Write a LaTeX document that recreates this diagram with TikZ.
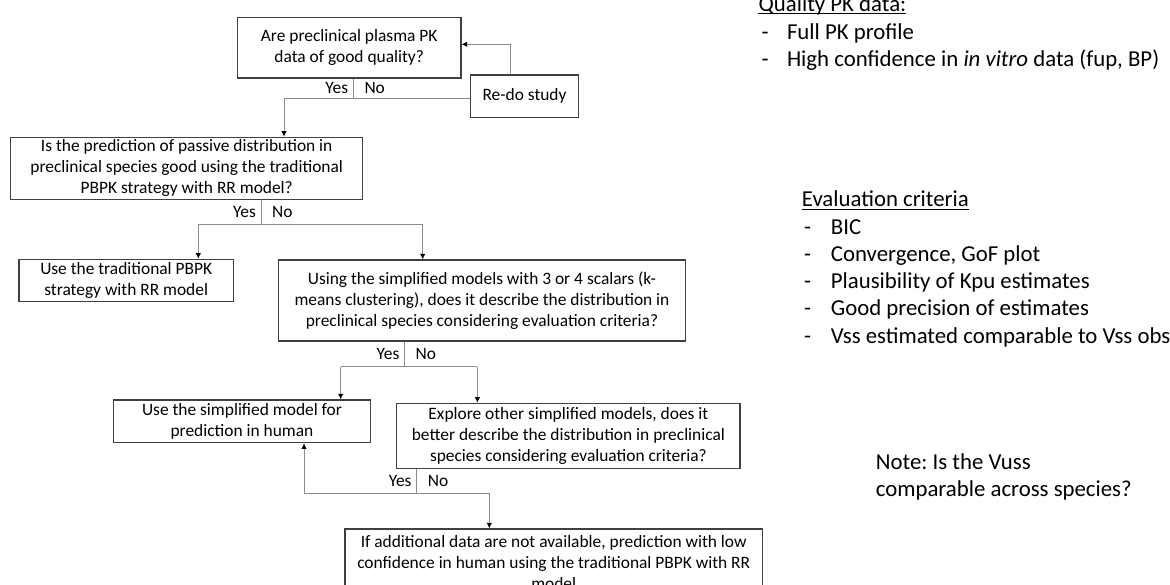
\documentclass[tikz,border=0pt]{standalone}
\usepackage{fontspec}
\setmainfont{Carlito}
\usetikzlibrary{arrows.meta}
\definecolor{boxline}{HTML}{404040}
\definecolor{linkgray}{HTML}{8C8C8C}
\newcommand\boxfont{\fontsize{17.4}{21}\selectfont}
\newcommand\notefont{\fontsize{22.8}{27.3}\selectfont}
\frenchspacing
\begin{document}
\begin{tikzpicture}[x=1pt,y=-1pt,
  box/.style={draw=boxline, line width=1.2pt, inner sep=0pt, align=center, font=\boxfont},
  link/.style={draw=linkgray, line width=1pt},
  arrow/.style={link, -{Latex[length=5.5pt,width=5.5pt,color=black]}},
  yes/.style={anchor=east, font=\boxfont, inner sep=0pt},
  no/.style={anchor=west, font=\boxfont, inner sep=0pt},
  note/.style={anchor=base west, font=\notefont, inner sep=0pt},
  uline/.style={draw=black, line width=0.9pt},
]
\useasboundingbox (0,0) rectangle (1170,585);
\clip (0,0) rectangle (1170,585);

% decision boxes
\node[box, minimum width=223.7pt, minimum height=60.7pt] (q1) at (349.2,47.7)
  {Are preclinical plasma PK\\data of good quality?};
\node[box, minimum width=107.6pt, minimum height=42.7pt] (redo) at (524.5,96.3)
  {Re-do study};
\node[box, minimum width=352pt, minimum height=62pt] (q2) at (186.7,168.3)
  {Is the prediction of passive distribution in\\preclinical species good using the traditional\\PBPK strategy with RR model?};
\node[box, minimum width=214.3pt, minimum height=42.4pt] (use1) at (126.2,280.5)
  {Use the traditional PBPK\\strategy with RR model};
\node[box, minimum width=407.4pt, minimum height=81pt] (q3) at (482,300.5)
  {Using the simplified models with 3 or 4 scalars (k-\\means clustering), does it describe the distribution in\\preclinical species considering evaluation criteria?};
\node[box, minimum width=257.4pt, minimum height=42.7pt] (use2) at (242,421.4)
  {Use the simplified model for\\prediction in human};
\node[box, minimum width=343.3pt, minimum height=65pt] (q4) at (568.4,435.8)
  {Explore other simplified models, does it\\better describe the distribution in preclinical\\species considering evaluation criteria?};
\node[box, minimum width=417.3pt, minimum height=67pt] (low) at (553.7,562.5)
  {If additional data are not available, prediction with low\\confidence in human using the traditional PBPK with RR\\model};

% first decision
\coordinate (j1) at (353.3,98.7);
\coordinate (j1l) at (284,98.7);
\coordinate (r1) at (510,44.3);
\draw[link] (q1.south -| j1) -- (j1);
\draw[link] (j1l) -- (redo.west |- j1l);
\draw[arrow] (j1l) -- (q2.north -| j1l);
\draw[arrow] (redo.north -| r1) |- (q1.east |- r1);
\node[yes] (y1) at (348.3,88) {Yes};
\node[no] (n1) at (364.3,88) {No};

% second decision
\coordinate (j2) at (261,225);
\coordinate (j2l) at (198.3,225);
\coordinate (j2r) at (422.7,225);
\draw[link] (q2.south -| j2) -- (j2);
\draw[link] (j2l) -- (j2r);
\draw[arrow] (j2l) -- (use1.north -| j2l);
\draw[arrow] (j2r) -- (q3.north -| j2r);
\node[yes] (y2) at (256,212) {Yes};
\node[no] (n2) at (272,212) {No};

% third decision
\coordinate (j3) at (404.5,366.5);
\coordinate (j3l) at (340.7,366.5);
\coordinate (j3r) at (477.4,366.5);
\draw[link] (q3.south -| j3) -- (j3);
\draw[link] (j3l) -- (j3r);
\draw[arrow] (j3l) -- (use2.north -| j3l);
\draw[arrow] (j3r) -- (q4.north -| j3r);
\node[yes] (y3) at (399.5,353.5) {Yes};
\node[no] (n3) at (415.5,353.5) {No};

% fourth decision
\coordinate (j4) at (416.7,493);
\coordinate (j4l) at (304,493);
\coordinate (j4r) at (489.3,493);
\draw[link] (q4.south -| j4) -- (j4);
\draw[link] (j4l) -- (j4r);
\draw[arrow] (j4l) -- (use2.south -| j4l);
\draw[arrow] (j4r) -- (low.north -| j4r);
\node[yes] (y4) at (411.7,481) {Yes};
\node[no] (n4) at (427.7,481) {No};

% quality of PK data
\node[note] (qh) at (758.4,11.5) {Quality PK data:};
\draw[uline] ([yshift=-2.3pt]qh.base west) -- ([yshift=-2.3pt]qh.base east);
\node[note] (qd1) at (761.5,39.5) {-};
\node[note] (qi1) at (786.8,39.5) {Full PK profile};
\node[note] (qd2) at (761.5,67) {-};
\node[note] (qi2) at (786.8,67) {High confidence in \textit{in vitro} data (fup, BP)};

% evaluation criteria
\node[note] (eh) at (801.7,206.8) {Evaluation criteria};
\draw[uline] ([yshift=-2.3pt]eh.base west) -- ([yshift=-2.3pt]eh.base east);
\node[note] (ed1) at (804,234.3) {-};
\node[note] (ei1) at (830.7,234.3) {BIC};
\node[note] (ed2) at (804,261.5) {-};
\node[note] (ei2) at (830.7,261.5) {Convergence, GoF plot};
\node[note] (ed3) at (804,288.7) {-};
\node[note] (ei3) at (830.7,288.7) {Plausibility of Kpu estimates};
\node[note] (ed4) at (804,315.9) {-};
\node[note] (ei4) at (830.7,315.9) {Good precision of estimates};
\node[note] (ed5) at (804,343.1) {-};
\node[note] (ei5) at (830.7,343.1) {Vss estimated comparable to Vss obs};

% side note
\node[note] (nt1) at (875.7,469.4) {Note: Is the Vuss};
\node[note] (nt2) at (875.7,496.7) {comparable across species?};
\end{tikzpicture}
\end{document}
